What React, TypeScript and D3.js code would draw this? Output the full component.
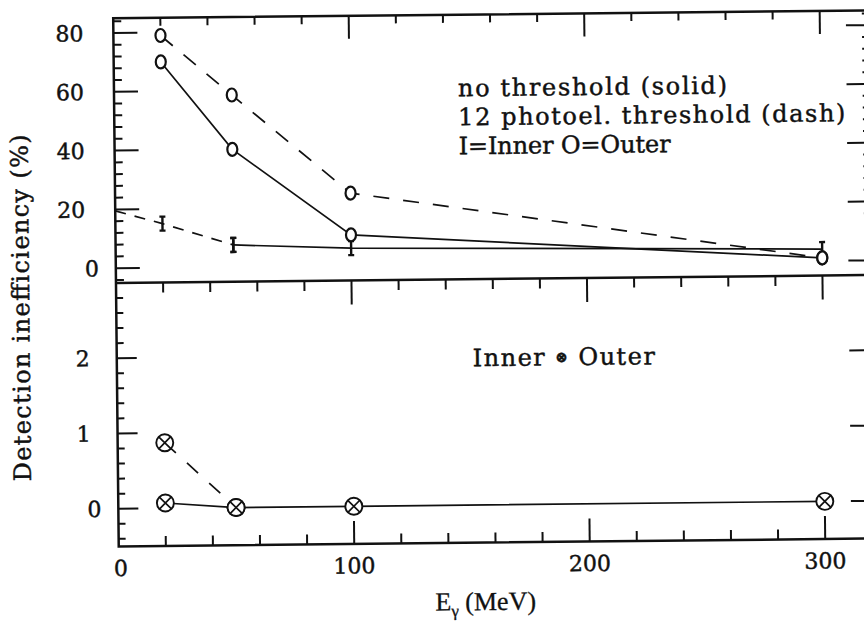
import React from 'react';
import * as d3 from 'd3';

// ---- data ----
const energies = [20, 50, 100, 300];
const outerSolid = [70, 40, 10.5, 1];
const outerDash = [79, 58.5, 24.7, 1];
const innerSolidE = [50, 100, 300];
const innerSolid = [7.5, 6, 4];
const innerDashE = [0, 20, 50];
const innerDash = [19.5, 15, 7.5];
const bothSolid = [0.07, 0, 0, 0];
const bothDashE = [20, 50];
const bothDash = [0.87, 0];

const xMajor = [0, 100, 200, 300];
const xLabels = ['0', '100', '200', '300'];
const xMinor = d3.range(1, 16).map((i) => i * 20).filter((v) => v % 100 !== 0);
const topMajor = [0, 20, 40, 60, 80];
const topLabels = ['0', '20', '40', '60', '80'];
const topMinor = d3.range(-1, 22).map((i) => i * 4).filter((v) => v % 20 !== 0);
const botMajor = [0, 1, 2];
const botLabels = ['0', '1', '2'];
const botMinor = d3.range(-2, 15).map((i) => i / 5).filter((v) => Math.abs(v - Math.round(v)) > 1e-6);

const legendLines = ['no threshold (solid)', '12 photoel. threshold (dash)', 'I=Inner O=Outer'];

const INK = '#111';
const SERIF = "'DejaVu Serif', serif";

export default function App() {
  const left = 116, right = 869.6, top = 14.4, mid = 279, bottom = 542.5;
  const x = d3.scaleLinear().domain([0, 320]).range([left, right]);
  const yT = d3.scaleLinear().domain([-5, 85]).range([mid, top]);
  const yB = d3.scaleLinear().domain([-0.5, 3]).range([bottom, mid]);
  const mk = (xs: number[], ys: number[], ys2: d3.ScaleLinear<number, number>) =>
    d3.line()(xs.map((e, i) => [x(e), ys2(ys[i])] as [number, number])) || '';

  const tickLine = (k: string, x1: number, y1: number, x2: number, y2: number) => (
    <line key={k} x1={x1} y1={y1} x2={x2} y2={y2} stroke={INK} strokeWidth={2} />
  );

  const labelEnd = (s: string) => left - (s.length > 1 ? 30 : s === '0' ? 17 : 27);

  const Omark = (k: string, cx: number, cy: number) => (
    <ellipse key={k} cx={cx} cy={cy} rx={5} ry={6.5} fill="#fff" stroke={INK} strokeWidth={2.2} />
  );
  const Imark = (k: string, cx: number, cy: number) => (
    <path key={k} d={`M${cx - 3},${cy - 7}h6M${cx},${cy - 7}v14M${cx - 3},${cy + 7}h6`} stroke={INK} strokeWidth={2.4} fill="none" />
  );
  const Xmark = (k: string, cx: number, cy: number) => {
    const r = 8.5, d = r * 0.7071;
    return (
      <g key={k}>
        <circle cx={cx} cy={cy} r={r} fill="#fff" stroke={INK} strokeWidth={1.9} />
        <path d={`M${cx - d},${cy - d}L${cx + d},${cy + d}M${cx + d},${cy - d}L${cx - d},${cy + d}`} stroke={INK} strokeWidth={1.7} />
      </g>
    );
  };

  const textInk = { fill: INK, stroke: INK, strokeWidth: 0.45 } as const;

  return (
    <svg width={864} height={627} style={{ position: 'absolute', left: 0, top: 0, background: '#fff' }}>
      <rect x={0} y={0} width={864} height={627} fill="#fff" />
      <g transform="rotate(-0.6, 490, 283)">
        {/* frame */}
        <rect x={left} y={top} width={right - left} height={bottom - top} fill="none" stroke={INK} strokeWidth={2.5} />
        <line x1={left} y1={mid} x2={right} y2={mid} stroke={INK} strokeWidth={2.5} />

        {/* x ticks: top edge (down), middle (down), bottom (up) */}
        {xMajor.filter((v) => v > 0).map((v) => tickLine('tM' + v, x(v), top, x(v), top + 23))}
        {xMinor.map((v) => tickLine('tm' + v, x(v), top, x(v), top + 8))}
        {xMajor.filter((v) => v > 0).map((v) => tickLine('mM' + v, x(v), mid, x(v), mid + 24))}
        {xMinor.map((v) => tickLine('mm' + v, x(v), mid, x(v), mid + 10))}
        {xMajor.filter((v) => v > 0).map((v) => tickLine('bM' + v, x(v), bottom, x(v), bottom - 23))}
        {xMinor.map((v) => tickLine('bm' + v, x(v), bottom, x(v), bottom - 10))}

        {/* y ticks top panel */}
        {topMajor.map((v) => tickLine('lTM' + v, left, yT(v), left + 24, yT(v)))}
        {topMinor.map((v) => tickLine('lTm' + v, left, yT(v), left + 8, yT(v)))}
        {topMajor.map((v) => tickLine('rTM' + v, right, yT(v), right - 21, yT(v)))}
        {topMinor.map((v) => tickLine('rTm' + v, right, yT(v), right - 5, yT(v)))}
        {/* y ticks bottom panel */}
        {botMajor.map((v) => tickLine('lBM' + v, left, yB(v), left + 20, yB(v)))}
        {botMinor.map((v) => tickLine('lBm' + v, left, yB(v), left + 7, yB(v)))}
        {botMajor.map((v) => tickLine('rBM' + v, right, yB(v), right - 21, yB(v)))}
        {botMinor.map((v) => tickLine('rBm' + v, right, yB(v), right - 5, yB(v)))}

        {/* tick labels */}
        <g fontFamily={SERIF} fontSize={22} {...textInk}>
          {topMajor.map((v, i) => (
            <text key={'yl' + v} x={labelEnd(topLabels[i])} y={yT(v)} dy="0.36em" textAnchor="end">{topLabels[i]}</text>
          ))}
          {botMajor.map((v, i) => (
            <text key={'yb' + v} x={labelEnd(botLabels[i])} y={yB(v)} dy="0.36em" textAnchor="end">{botLabels[i]}</text>
          ))}
          {xMajor.map((v, i) => (
            <text key={'xl' + v} x={x(v) + (v === 0 ? 2 : 0)} y={572} textAnchor="middle">{xLabels[i]}</text>
          ))}
        </g>

        {/* axis titles */}
        <text x={432} y={610} fontFamily="'Liberation Serif', serif" fontSize={26} {...textInk} strokeWidth={0.3}>
          <tspan>E</tspan>
          <tspan fontSize={17} dy={6}>γ</tspan>
          <tspan dy={-6}>{'\u00a0(MeV)'}</tspan>
        </text>
        <text transform="translate(29,303) rotate(-90)" textAnchor="middle" fontFamily={SERIF} fontSize={24} {...textInk}
          textLength={347} lengthAdjust="spacing">Detection inefficiency (%)</text>

        {/* legend */}
        <g fontFamily={SERIF} fontSize={24} {...textInk}>
          <text x={460} y={96} textLength={269} lengthAdjust="spacing">{legendLines[0]}</text>
          <text x={460} y={125} textLength={387} lengthAdjust="spacing">{legendLines[1]}</text>
          <text x={460} y={154} textLength={212} lengthAdjust="spacing">{legendLines[2]}</text>
          <text x={472} y={366} textLength={182} lengthAdjust="spacing">
            Inner <tspan fontSize={15} dy={-3} fontWeight="bold">⊗</tspan><tspan dy={3}> Outer</tspan>
          </text>
        </g>

        {/* top panel lines */}
        <path d={mk(energies, outerDash, yT)} fill="none" stroke={INK} strokeWidth={1.7} strokeDasharray="16 14" />
        <path d={mk(energies, outerSolid, yT)} fill="none" stroke={INK} strokeWidth={1.7} />
        <path d={mk(innerDashE, innerDash, yT)} fill="none" stroke={INK} strokeWidth={1.7} strokeDasharray="11 9" />
        <path d={mk(innerSolidE, innerSolid, yT)} fill="none" stroke={INK} strokeWidth={1.7} />

        {/* bottom panel lines */}
        <path d={mk(bothDashE, bothDash, yB)} fill="none" stroke={INK} strokeWidth={1.7} strokeDasharray="15 15" />
        <path d={mk(energies, bothSolid, yB)} fill="none" stroke={INK} strokeWidth={1.7} />

        {/* markers */}
        {innerDashE.slice(1).map((e, i) => Imark('id' + e, x(e), yT(innerDash[i + 1])))}
        {innerSolidE.map((e, i) => Imark('is' + e, x(e), yT(innerSolid[i])))}
        {energies.map((e, i) => Omark('od' + e, x(e), yT(outerDash[i])))}
        {energies.map((e, i) => Omark('os' + e, x(e), yT(outerSolid[i])))}
        {bothDashE.map((e, i) => Xmark('bd' + e, x(e), yB(bothDash[i])))}
        {energies.map((e, i) => Xmark('bs' + e, x(e), yB(bothSolid[i])))}
      </g>
    </svg>
  );
}
